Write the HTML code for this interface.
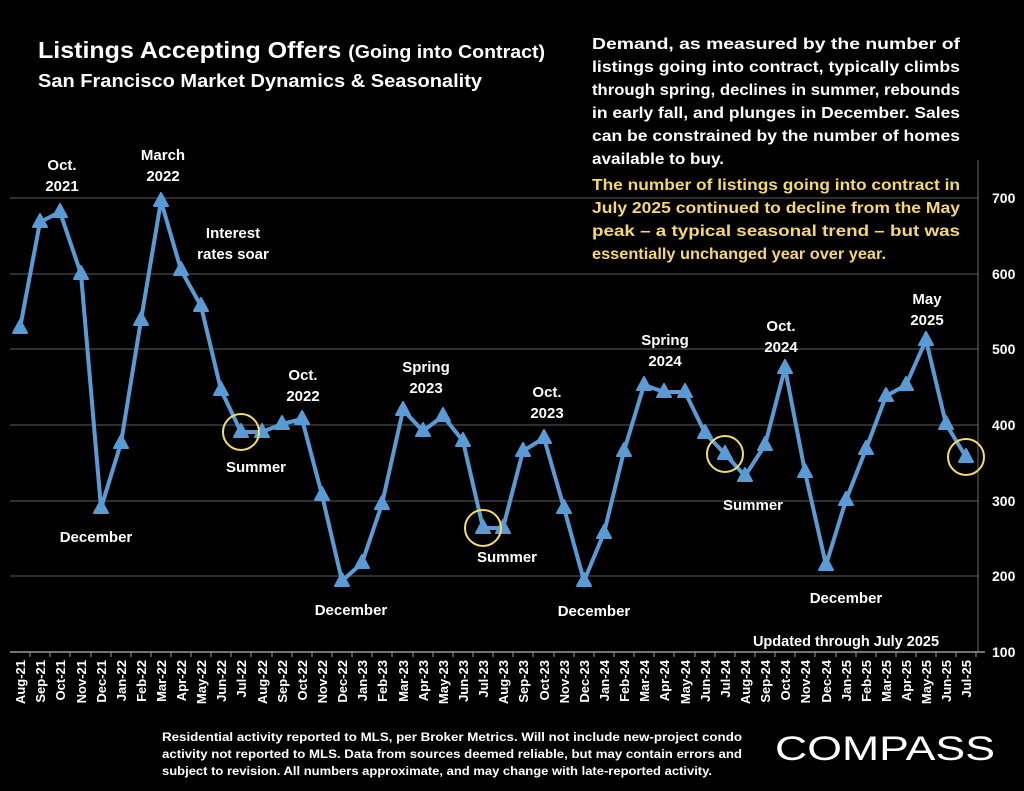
<!DOCTYPE html>
<html><head><meta charset="utf-8"><style>
body{margin:0;background:#000;width:1024px;height:791px;overflow:hidden}
svg{display:block}
text{font-family:"Liberation Sans",sans-serif;font-weight:bold;fill:#fff}
</style></head><body>
<svg width="1024" height="791" viewBox="0 0 1024 791">
<rect width="1024" height="791" fill="#000"/>
<g stroke="#4a4a4a" stroke-width="1.2">
<line x1="10" y1="198" x2="978" y2="198"/><line x1="10" y1="274" x2="978" y2="274"/>
<line x1="10" y1="349" x2="978" y2="349"/><line x1="10" y1="425" x2="978" y2="425"/>
<line x1="10" y1="501" x2="978" y2="501"/><line x1="10" y1="576" x2="978" y2="576"/>
</g>
<line x1="978" y1="160" x2="978" y2="652" stroke="#7a6a50" stroke-width="1"/>
<line x1="10" y1="652" x2="985" y2="652" stroke="#999" stroke-width="1.5"/>
<g font-size="14" text-anchor="start">
<text x="992" y="203">700</text><text x="992" y="279">600</text><text x="992" y="354">500</text>
<text x="992" y="430">400</text><text x="992" y="506">300</text><text x="992" y="581">200</text><text x="992" y="657">100</text>
</g>
<polyline fill="none" stroke="#5b9bd5" stroke-width="4" stroke-linejoin="round" points="20,328 40,222 60,212 81,274 101,508 121,443 141,320 161,201 181,270 201,306 221,390 241,432 262,432 282,424 302,419 322,495 342,581 362,563 382,504 403,410 423,431 443,416 463,441 483,528 503,528 523,451 544,438 564,508 584,581 604,533 624,451 644,385 664,392 685,392 705,433 725,454 745,476 765,445 785,368 805,472 826,565 846,500 866,449 886,396 906,385 926,340 946,424 966,457"/>
<g fill="#5b9bd5" stroke="#5b9bd5" stroke-width="2" stroke-linejoin="round" id="m"></g>
<g fill="none" stroke="#f2dc6b" stroke-width="2">
<circle cx="241" cy="432" r="18"/><circle cx="483" cy="528" r="18"/><circle cx="725" cy="454" r="18"/><circle cx="966" cy="457" r="18"/>
</g>
<g font-size="15" text-anchor="middle">
<text x="62" y="170">Oct.</text><text x="62" y="191">2021</text>
<text x="163" y="160">March</text><text x="163" y="181">2022</text>
<text x="233" y="238">Interest</text><text x="233" y="259">rates soar</text>
<text x="96" y="542">December</text>
<text x="256" y="472">Summer</text>
<text x="303" y="380">Oct.</text><text x="303" y="401">2022</text>
<text x="351" y="615">December</text>
<text x="426" y="372">Spring</text><text x="426" y="393">2023</text>
<text x="547" y="397">Oct.</text><text x="547" y="418">2023</text>
<text x="507" y="562">Summer</text>
<text x="594" y="616">December</text>
<text x="665" y="345">Spring</text><text x="665" y="366">2024</text>
<text x="781" y="331">Oct.</text><text x="781" y="352">2024</text>
<text x="753" y="510">Summer</text>
<text x="846" y="603">December</text>
<text x="927" y="304">May</text><text x="927" y="325">2025</text>
<text x="846" y="646" font-size="14.5">Updated through July 2025</text>
</g>
<text x="38" y="58" font-size="23" textLength="507" lengthAdjust="spacingAndGlyphs">Listings Accepting Offers <tspan font-size="18">(Going into Contract)</tspan></text>
<text x="38" y="87" font-size="18" textLength="444" lengthAdjust="spacingAndGlyphs">San Francisco Market Dynamics &amp; Seasonality</text>
<g font-size="16">
<text x="592" y="49" textLength="368" lengthAdjust="spacingAndGlyphs">Demand, as measured by the number of</text>
<text x="592" y="72" textLength="368" lengthAdjust="spacingAndGlyphs">listings going into contract, typically climbs</text>
<text x="592" y="95" textLength="368" lengthAdjust="spacingAndGlyphs">through spring, declines in summer, rebounds</text>
<text x="592" y="118" textLength="368" lengthAdjust="spacingAndGlyphs">in early fall, and plunges in December.  Sales</text>
<text x="592" y="141" textLength="368" lengthAdjust="spacingAndGlyphs">can be constrained by the number of homes</text>
<text x="592" y="164" textLength="132" lengthAdjust="spacingAndGlyphs">available to  buy.</text>
<text x="592" y="190" textLength="368" lengthAdjust="spacingAndGlyphs" style="fill:#f5d76e">The number of listings going into contract in</text>
<text x="592" y="213" textLength="368" lengthAdjust="spacingAndGlyphs" style="fill:#f5d76e">July 2025 continued to decline from the May</text>
<text x="592" y="236" textLength="368" lengthAdjust="spacingAndGlyphs" style="fill:#f5d76e">peak – a typical seasonal trend – but was</text>
<text x="592" y="259" textLength="294" lengthAdjust="spacingAndGlyphs" style="fill:#f5d76e">essentially unchanged year over year.</text>
</g>
<g font-size="13" id="xl"></g>
<g font-size="12">
<text x="162" y="741" textLength="580" lengthAdjust="spacingAndGlyphs">Residential activity reported to MLS, per Broker Metrics. Will not include new-project condo</text>
<text x="162" y="758" textLength="580" lengthAdjust="spacingAndGlyphs">activity not reported to MLS. Data from sources deemed reliable, but may contain errors and</text>
<text x="162" y="775" textLength="550" lengthAdjust="spacingAndGlyphs">subject to revision. All numbers approximate, and may change with late-reported activity.</text>
</g>
<text x="775" y="760" font-size="34" textLength="220" lengthAdjust="spacingAndGlyphs" style="font-weight:normal">COMPASS</text>
</svg>
<script>
var pts="20,328 40,222 60,212 81,274 101,508 121,443 141,320 161,201 181,270 201,306 221,390 241,432 262,432 282,424 302,419 322,495 342,581 362,563 382,504 403,410 423,431 443,416 463,441 483,528 503,528 523,451 544,438 564,508 584,581 604,533 624,451 644,385 664,392 685,392 705,433 725,454 745,476 765,445 785,368 805,472 826,565 846,500 866,449 886,396 906,385 926,340 946,424 966,457".split(" ");
var ns="http://www.w3.org/2000/svg",m=document.getElementById("m"),xl=document.getElementById("xl");
var mo=["Aug","Sep","Oct","Nov","Dec","Jan","Feb","Mar","Apr","May","Jun","Jul"];
pts.forEach(function(p,i){var a=p.split(","),x=+a[0],y=+a[1];
var t=document.createElementNS(ns,"polygon");t.setAttribute("points",(x)+","+(y-8)+" "+(x-7)+","+(y+5)+" "+(x+7)+","+(y+5));m.appendChild(t);
var tk=document.createElementNS(ns,"line");tk.setAttribute("x1",x+10);tk.setAttribute("x2",x+10);tk.setAttribute("y1",652);tk.setAttribute("y2",657);tk.setAttribute("stroke","#999");m.parentNode.appendChild(tk);
var yr=21+Math.floor((i+7)/12);var lb=document.createElementNS(ns,"text");
lb.setAttribute("transform","translate("+(x+5)+",660) rotate(-90)");lb.setAttribute("text-anchor","end");
lb.textContent=mo[i%12]+"-"+yr;xl.appendChild(lb);});
</script>
</body></html>
